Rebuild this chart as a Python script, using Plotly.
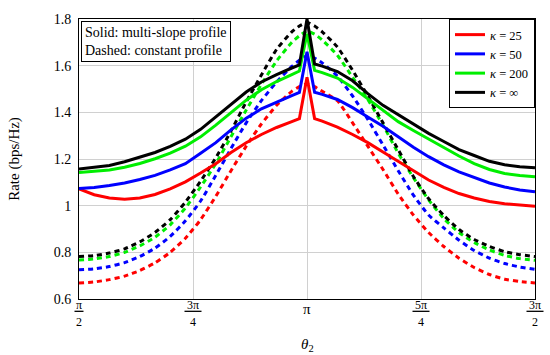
import numpy as np
import plotly.graph_objects as go

# angle samples (degrees)
THETA_DEG = [90, 96, 102, 108, 114, 120, 126, 132, 138, 144, 150, 156, 162, 168, 174,
             177, 180, 183,
             186, 192, 198, 204, 210, 216, 222, 228, 234, 240, 246, 252, 258, 264, 270]

# Solid: multi-slope profile
MS_25 = [1.072, 1.047, 1.033, 1.028, 1.033, 1.048, 1.072, 1.102, 1.14, 1.18, 1.228, 1.27, 1.305, 1.335, 1.36,
         1.373, 1.55, 1.373,
         1.362, 1.337, 1.305, 1.27, 1.23, 1.19, 1.15, 1.11, 1.078, 1.052, 1.033, 1.018, 1.008, 1.001, 0.997]
MS_50 = [1.074, 1.078, 1.086, 1.097, 1.112, 1.13, 1.153, 1.18, 1.225, 1.27, 1.325, 1.375, 1.415, 1.445, 1.472,
         1.485, 1.66, 1.486,
         1.477, 1.455, 1.42, 1.38, 1.34, 1.295, 1.25, 1.21, 1.175, 1.145, 1.12, 1.097, 1.08, 1.067, 1.06]
MS_200 = [1.142, 1.146, 1.153, 1.165, 1.181, 1.201, 1.225, 1.255, 1.295, 1.345, 1.40, 1.452, 1.497, 1.532, 1.562,
          1.577, 1.737, 1.580,
          1.570, 1.547, 1.507, 1.458, 1.407, 1.36, 1.322, 1.285, 1.25, 1.213, 1.18, 1.155, 1.138, 1.129, 1.124]
MS_INF = [1.157, 1.163, 1.172, 1.188, 1.207, 1.228, 1.254, 1.285, 1.327, 1.38, 1.434, 1.487, 1.530, 1.562, 1.590,
          1.603, 1.80, 1.607,
          1.598, 1.575, 1.535, 1.48, 1.43, 1.39, 1.35, 1.31, 1.275, 1.24, 1.215, 1.19, 1.175, 1.167, 1.163]

# Dashed: constant profile
CP_25 = [0.669, 0.673, 0.683, 0.698, 0.722, 0.755, 0.80, 0.86, 0.94, 1.04, 1.15, 1.255, 1.35, 1.43, 1.49,
         1.51, 1.522, 1.51,
         1.49, 1.45, 1.355, 1.255, 1.155, 1.05, 0.96, 0.885, 0.825, 0.775, 0.735, 0.705, 0.685, 0.675, 0.669]
CP_50 = [0.725, 0.729, 0.739, 0.756, 0.782, 0.818, 0.868, 0.935, 1.02, 1.13, 1.245, 1.355, 1.45, 1.53, 1.597,
         1.623, 1.643, 1.632,
         1.612, 1.555, 1.47, 1.37, 1.26, 1.15, 1.045, 0.96, 0.905, 0.852, 0.808, 0.775, 0.752, 0.737, 0.727]
CP_200 = [0.767, 0.772, 0.782, 0.80, 0.828, 0.865, 0.918, 0.99, 1.08, 1.18, 1.295, 1.41, 1.52, 1.62, 1.70,
          1.728, 1.748, 1.735,
          1.71, 1.645, 1.55, 1.455, 1.345, 1.225, 1.12, 1.025, 0.945, 0.885, 0.842, 0.81, 0.787, 0.773, 0.766]
CP_INF = [0.782, 0.786, 0.797, 0.815, 0.845, 0.885, 0.94, 1.015, 1.105, 1.205, 1.32, 1.445, 1.56, 1.67, 1.745,
          1.77, 1.785, 1.77,
          1.745, 1.68, 1.58, 1.47, 1.355, 1.24, 1.125, 1.03, 0.958, 0.898, 0.855, 0.825, 0.803, 0.79, 0.782]

LABELS = ["<i>κ</i> = 25", "<i>κ</i> = 50", "<i>κ</i> = 200", "<i>κ</i> = ∞"]
COLORS = ["#ff0000", "#0000ff", "#00ee00", "#000000"]

XTICK_NUM = ["π", "3π", "π", "5π", "3π"]
XTICK_DEN = ["2", "4", "", "4", "2"]
XTICK_VAL = [np.pi / 2, 3 * np.pi / 4, np.pi, 5 * np.pi / 4, 3 * np.pi / 2]

x = np.deg2rad(THETA_DEG)
FONT = "Liberation Serif, Times New Roman, serif"
PLOT_W = 550 - 79 - 15

fig = go.Figure()
for ys, c in zip([CP_25, CP_50, CP_200, CP_INF], COLORS):
    fig.add_trace(go.Scatter(x=x, y=ys, mode="lines", showlegend=False,
                             line=dict(color=c, width=3, dash="5px,4px", shape="spline", smoothing=0.5)))
for ys, c, lab in zip([MS_25, MS_50, MS_200, MS_INF], COLORS, LABELS):
    fig.add_trace(go.Scatter(x=x, y=ys, mode="lines", name=lab,
                             line=dict(color=c, width=3)))

annotations = []
shapes = []
for xv, num, den in zip(XTICK_VAL, XTICK_NUM, XTICK_DEN):
    xp = (xv - np.pi / 2) / np.pi
    if den == "":
        annotations.append(dict(x=xp, y=-0.035, xref="paper", yref="paper", text=num, showarrow=False,
                                xanchor="center", yanchor="middle",
                                font=dict(family=FONT, size=15, color="black")))
    else:
        annotations.append(dict(x=xp, y=-0.022, xref="paper", yref="paper", text=num, showarrow=False,
                                xanchor="center", yanchor="middle",
                                font=dict(family=FONT, size=12, color="black")))
        annotations.append(dict(x=xp, y=-0.082, xref="paper", yref="paper", text=den, showarrow=False,
                                xanchor="center", yanchor="middle",
                                font=dict(family=FONT, size=12, color="black")))
        half = (4.5 if len(num) == 1 else 8.5) / PLOT_W
        shapes.append(dict(type="line", xref="paper", yref="paper",
                           x0=xp - half, x1=xp + half, y0=-0.044, y1=-0.044,
                           line=dict(color="black", width=1.3)))

annotations.append(dict(x=0.005, y=0.993, xref="paper", yref="paper", xanchor="left", yanchor="top",
                        text="Solid: multi-slope profile<br>Dashed: constant profile", showarrow=False,
                        align="left", bordercolor="black", borderwidth=1, bgcolor="white", borderpad=3,
                        font=dict(family=FONT, size=14, color="black")))
annotations.append(dict(x=0.5, y=-0.165, xref="paper", yref="paper", text="<i>θ</i><sub>2</sub>",
                        showarrow=False, xanchor="center", yanchor="middle",
                        font=dict(family=FONT, size=15, color="black")))

fig.update_layout(
    width=550, height=355,
    margin=dict(l=79, r=15, t=15, b=56),
    paper_bgcolor="white", plot_bgcolor="white",
    font=dict(family=FONT, size=14, color="black"),
    showlegend=True,
    legend=dict(x=1, y=1, xanchor="right", yanchor="top", bordercolor="black", borderwidth=1,
                bgcolor="white", font=dict(family=FONT, size=12.5), tracegroupgap=0,
                itemwidth=30),
    annotations=annotations,
    shapes=shapes,
)
fig.update_xaxes(range=[np.pi / 2, 3 * np.pi / 2], tickvals=XTICK_VAL, showticklabels=False,
                 showgrid=True, gridcolor="#d0d0d0", gridwidth=1,
                 showline=True, linecolor="black", linewidth=1, mirror=True, zeroline=False)
fig.update_yaxes(range=[0.6, 1.8], tickvals=[0.6, 0.8, 1.0, 1.2, 1.4, 1.6, 1.8],
                 ticktext=["0.6", "0.8", "1", "1.2", "1.4", "1.6", "1.8"],
                 showgrid=True, gridcolor="#d0d0d0", gridwidth=1,
                 showline=True, linecolor="black", linewidth=1, mirror=True, zeroline=False,
                 title=dict(text="Rate (bps/Hz)", font=dict(family=FONT, size=15), standoff=30),
                 ticklabelstandoff=4)

fig.write_html("out.html")
